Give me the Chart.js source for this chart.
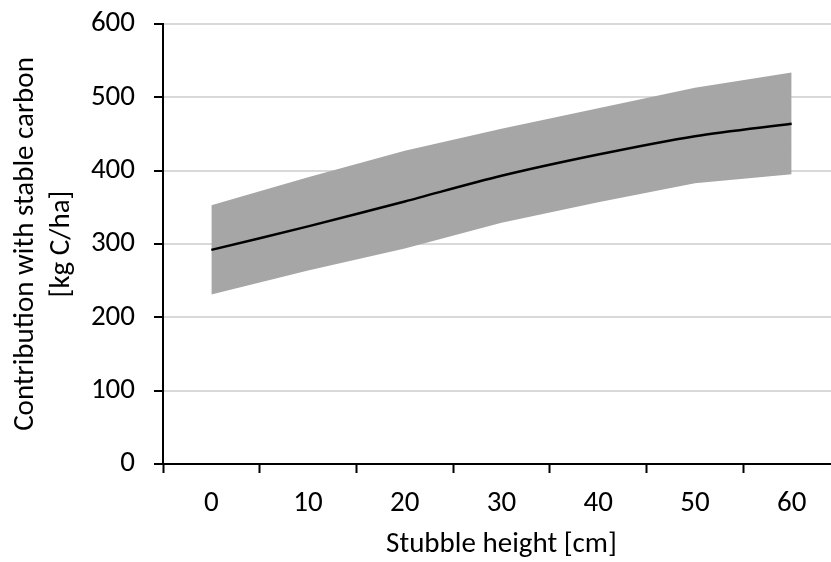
<!DOCTYPE html>
<html>
<head>
<meta charset="utf-8">
<script src="https://cdn.jsdelivr.net/npm/chart.js@4"></script>
<style>
  html, body { margin: 0; padding: 0; overflow: hidden; background: #fff; }
</style>
</head>
<body>
<canvas id="stubbleChart" width="853" height="562"></canvas>
<script>
// Values
const stubbleHeights = [0, 10, 20, 30, 40, 50, 60];
const meanCarbon = [292, 324, 358, 393, 422, 447, 464];
const upperCarbon = [353, 391, 427, 457, 485, 513, 534];
const lowerCarbon = [231, 264, 294, 329, 357, 383, 395];
const xLabelValues = [0, 10, 20, 30, 40, 50, 60];

// Pair x values with a series
function toPoints(values) {
    return stubbleHeights.map((x, i) => ({ x: x, y: values[i] }));
}

const fontFamily = "Carlito, Lato, 'Noto Sans', sans-serif";

const ctx = document.getElementById('stubbleChart').getContext('2d');

new Chart(ctx, {
    type: 'line',
    data: {
        datasets: [
            {
                label: 'Mean',
                data: toPoints(meanCarbon),
                borderColor: '#000000',
                borderWidth: 2.5,
                pointRadius: 0,
                tension: 0.3,
                fill: false,
                order: 0
            },
            {
                label: 'Upper',
                data: toPoints(upperCarbon),
                borderWidth: 0,
                borderColor: 'rgba(0,0,0,0)',
                backgroundColor: '#a6a6a6',
                pointRadius: 0,
                fill: '+1',
                order: 1
            },
            {
                label: 'Lower',
                data: toPoints(lowerCarbon),
                borderWidth: 0,
                borderColor: 'rgba(0,0,0,0)',
                pointRadius: 0,
                fill: false,
                order: 2
            }
        ]
    },
    options: {
        responsive: false,
        animation: false,
        layout: {
            padding: { top: 24, right: 1, left: 0, bottom: 0 }
        },
        plugins: {
            legend: { display: false },
            tooltip: { enabled: false }
        },
        scales: {
            x: {
                type: 'linear',
                min: -5,
                max: 65,
                afterFit: scale => { scale.height = 98; },
                afterBuildTicks: scale => {
                    const ticks = [];
                    for (let v = -5; v <= 65; v += 5) ticks.push({ value: v });
                    scale.ticks = ticks;
                },
                grid: {
                    drawOnChartArea: false,
                    drawTicks: true,
                    tickLength: 9,
                    tickWidth: 2,
                    tickColor: c => (c.tick && c.tick.value % 10 !== 0) ? '#000000' : 'rgba(0,0,0,0)'
                },
                border: { color: '#000000', width: 2 },
                ticks: {
                    autoSkip: false,
                    maxRotation: 0,
                    padding: 13,
                    color: '#000000',
                    font: { family: fontFamily, size: 29 },
                    callback: value => xLabelValues.includes(value) ? String(value) : ''
                },
                title: {
                    display: true,
                    text: 'Stubble height [cm]',
                    color: '#000000',
                    font: { family: fontFamily, size: 29 },
                    padding: { top: 3, bottom: 0 }
                }
            },
            y: {
                min: 0,
                max: 600,
                afterFit: scale => {
                    scale.width = 163;
                    scale.paddingTop = 0;
                    scale.paddingBottom = 0;
                },
                ticks: {
                    stepSize: 100,
                    padding: 19,
                    color: '#000000',
                    font: { family: fontFamily, size: 29 }
                },
                grid: {
                    color: '#d9d9d9',
                    lineWidth: 2,
                    tickLength: 9,
                    tickWidth: 2,
                    tickColor: '#000000'
                },
                border: { color: '#000000', width: 2 },
                title: {
                    display: true,
                    text: ['Contribution with stable carbon', '[kg C/ha]'],
                    color: '#000000',
                    font: { family: fontFamily, size: 29, lineHeight: 1.27 },
                    padding: { top: 7, bottom: 0 }
                }
            }
        }
    }
});
</script>
</body>
</html>
